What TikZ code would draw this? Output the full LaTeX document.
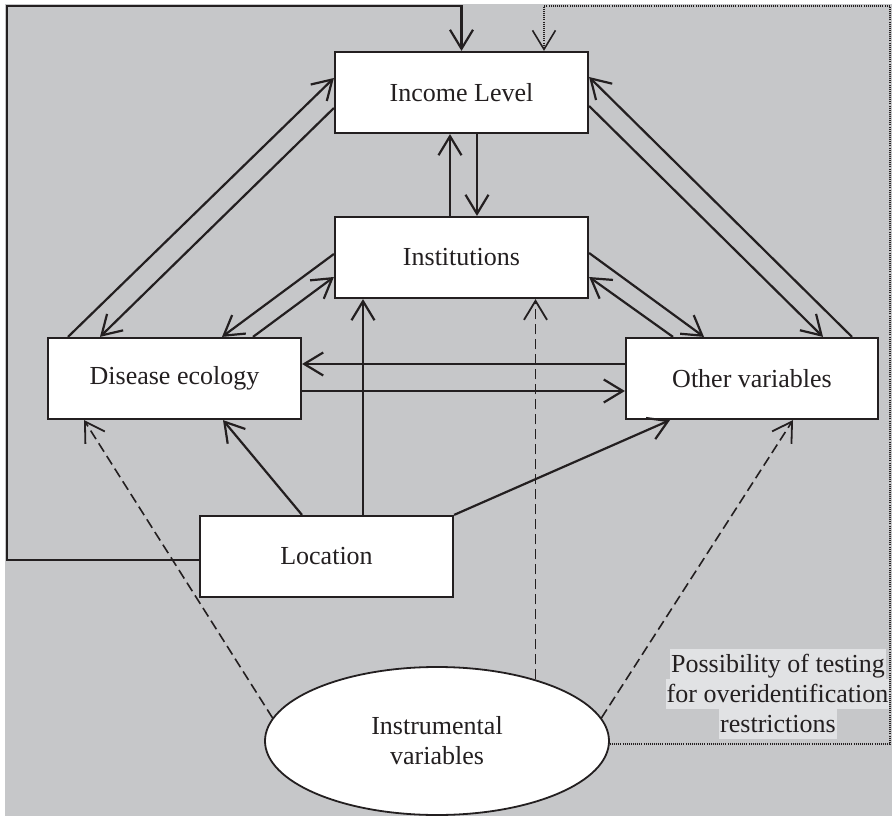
\documentclass[tikz,border=0pt]{standalone}
\usepackage{fontspec}
\setmainfont{Liberation Serif}
\usetikzlibrary{arrows.meta,shapes.geometric}
\definecolor{bggray}{HTML}{C6C7C9}
\definecolor{lblgray}{HTML}{E1E2E4}
\definecolor{ink}{HTML}{231F20}
\tikzset{
  box/.style={draw=ink,fill=white,line width=2.2pt,minimum width=253pt,minimum height=81pt,inner sep=0pt,font=\fontsize{26}{30}\selectfont,text=ink},
  ellbox/.style={ellipse,draw=ink,fill=white,line width=1.8pt,minimum width=344pt,minimum height=148pt,inner sep=0pt,align=center,font=\fontsize{26}{30}\selectfont,text=ink},
  conn/.style={draw=ink,line width=2.2pt,-{Straight Barb[length=19pt,width=23pt,line width=2.2pt]}},
  dashconn/.style={draw=ink,line width=1.6pt,dash pattern=on 10pt off 5pt,-{Straight Barb[length=19pt,width=23pt,line width=1.8pt]}},
  dotconn/.style={draw=ink,line width=1.2pt,dash pattern=on 0.9pt off 1.2pt,-{Straight Barb[length=19pt,width=23pt,line width=1.6pt]}},
  lbl/.style={fill=lblgray,anchor=base,inner xsep=1pt,inner ysep=1.5pt,text height=22pt,text depth=5pt,font=\fontsize{26}{30}\selectfont,text=ink}
}
\begin{document}
\begin{tikzpicture}[x=1pt,y=-1pt]
\useasboundingbox (0,0) rectangle (892,816);
\fill[bggray] (5,4) rectangle (892,816);

\node[box] (Income) at (461.5,92.5) {Income Level};
\node[box] (Inst) at (461.5,257.5) {Institutions};
\node[box] (Dis) at (174.5,378.5) {Disease ecology};
\node[box,minimum width=252pt] (Other) at (752,378.5) {Other variables};
\node[box] (Loc) at (326.5,556.5) {Location};
\node[ellbox] (Instr) at (437,741) {Instrumental\\variables};

\node[lbl] (lbl1) at (778,672) {Possibility of testing};
\node[lbl] (lbl2) at (777.5,702) {for overidentification};
\node[lbl] (lbl3) at (778,732) {restrictions};

\coordinate (cTL) at (7,6);
\coordinate (cTR) at (890,6);

% feedback from Location to Income
\draw[conn] ([yshift=-3.5pt]Loc.west) -| (cTL) -| (Income.north);
% dotted overidentification loop
\draw[dotconn] ([yshift=-3pt]Instr.east) -- ([yshift=-3pt]Instr.east -| cTR) -- (cTR) -| ([xshift=82.5pt]Income.north);

% Income <-> Institutions
\draw[conn] ([xshift=-11.5pt]Inst.north) -- ([xshift=-11.5pt]Income.south);
\draw[conn] ([xshift=15.5pt]Income.south) -- ([xshift=15.5pt]Inst.north);

% Income <-> Disease ecology
\draw[conn] ([xshift=-106.5pt]Dis.north) -- ([yshift=14.5pt]Income.west);
\draw[conn] ([yshift=-15.5pt]Income.west) -- ([xshift=-74.5pt]Dis.north);

% Institutions <-> Disease ecology
\draw[conn] ([yshift=3.5pt]Inst.west) -- ([xshift=47.5pt]Dis.north);
\draw[conn] ([xshift=78.5pt]Dis.north) -- ([yshift=-19.5pt]Inst.west);

% Institutions <-> Other variables
\draw[conn] ([yshift=4.5pt]Inst.east) -- ([xshift=-48pt]Other.north);
\draw[conn] ([xshift=-79pt]Other.north) -- ([yshift=-19.5pt]Inst.east);

% Income <-> Other variables
\draw[conn] ([yshift=-13.5pt]Income.east) -- ([xshift=71pt]Other.north);
\draw[conn] ([xshift=100pt]Other.north) -- ([yshift=15.5pt]Income.east);

% Disease ecology <-> Other variables
\draw[conn] ([yshift=14.5pt]Other.west) -- ([yshift=14.5pt]Dis.east);
\draw[conn] ([yshift=-12.5pt]Dis.east) -- ([yshift=-12.5pt]Other.west);

% Location -> others
\draw[conn] ([xshift=-24.5pt]Loc.north) -- ([xshift=48.5pt]Dis.south);
\draw[conn] ([xshift=36.5pt]Loc.north) -- ([xshift=36.5pt]Loc.north |- Inst.south);
\draw[conn] (Loc.north east) -- ([xshift=-82pt]Other.south);

% Instrumental variables (dashed)
\draw[dashconn] (Instr.172.5) -- ([xshift=-90.5pt]Dis.south);
\draw[dashconn] (Instr.32.6) -- (Instr.32.6 |- Inst.south);
\draw[dashconn] (Instr.8) -- ([xshift=41pt]Other.south);
\end{tikzpicture}
\end{document}
